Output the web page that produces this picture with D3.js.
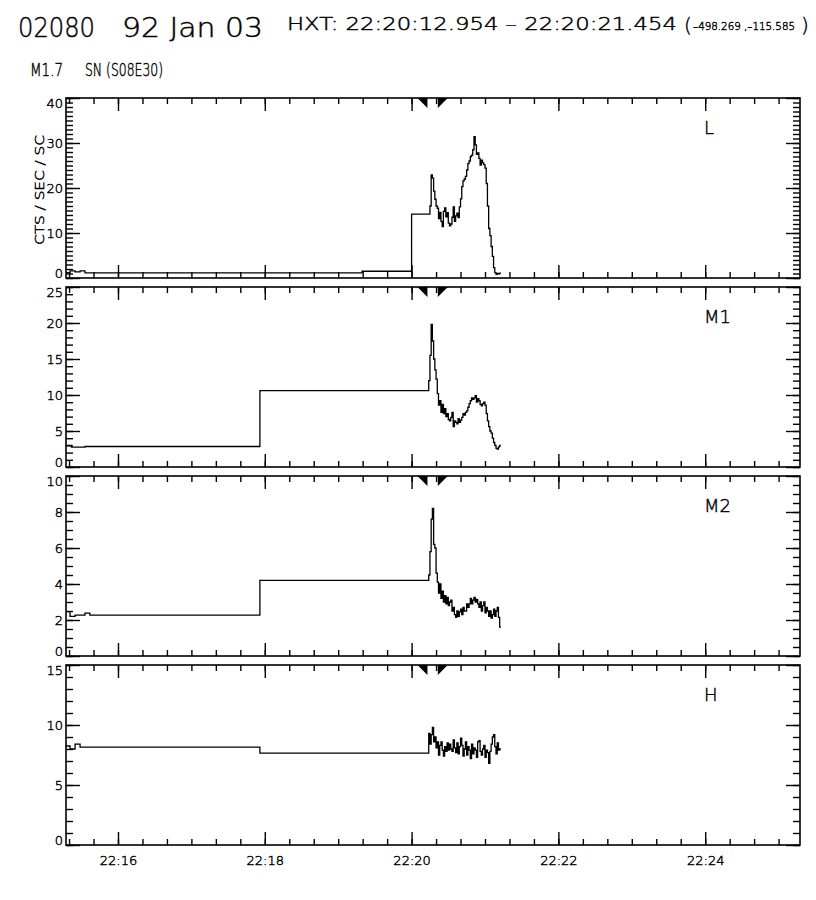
<!DOCTYPE html>
<html>
<head>
<meta charset="utf-8">
<script src="https://cdn.jsdelivr.net/npm/d3@7"></script>
<style>
  body { margin: 0; background: #fff; }
  svg { display: block; }
</style>
</head>
<body>
<svg width="816" height="900"></svg>
<script>
(function(d3) {
    'use strict';

    // HXT light curves, 92 Jan 03
    const channels = ['L', 'M1', 'M2', 'H'];
    const yMaxes = [40, 25, 10, 15];
    const yMajorSteps = [10, 5, 2, 5];
    const yMinorSteps = [1, 1, 0.5, 1];

    const axisStart = '22:15:17.5';
    const axisEnd = '22:25:17.5';
    const xTickLabels = ['22:16', '22:18', '22:20', '22:22', '22:24'];

    // low-rate background (step) samples before flare mode
    const bgTimesL = ['22:15:17.5', '22:15:20.8', '22:15:24.9', '22:15:29', '22:15:33', '22:19:19.5', '22:20:00'];
    const bgValuesL = [1.2, 1.6, 1.35, 1.6, 1.15, 1.5, 14.2];
    const bgTimesM1 = ['22:15:17.5', '22:15:22', '22:15:33', '22:17:56'];
    const bgValuesM1 = [3.0, 2.75, 2.85, 10.6];
    const bgTimesM2 = ['22:15:17.5', '22:15:20.8', '22:15:24.9', '22:15:33', '22:15:37', '22:17:56'];
    const bgValuesM2 = [2.47, 2.2, 2.27, 2.38, 2.27, 4.2];
    const bgTimesH = ['22:15:17.5', '22:15:20.8', '22:15:24.9', '22:15:29', '22:17:56'];
    const bgValuesH = [8.25, 8.0, 8.4, 8.15, 7.65];

    // flare mode samples, 1 s cadence
    const flareStart = '22:20:14';
    const flareStep = 1;
    const flareL = [14.2, 16.0, 22.9, 22.2, 19.3, 17.5, 16.0, 15.5, 13.2, 14.6,
        12.6, 11.4, 14.8, 15.6, 13.6, 14.5, 12.2, 11.6, 12.0, 13.5,
        15.8, 12.6, 13.8, 14.4, 13.4, 15.8, 17.6, 20.3, 21.6, 22.0,
        22.6, 24.0, 25.4, 26.0, 27.0, 27.3, 28.5, 31.4, 29.6, 27.5,
        27.8, 26.6, 25.1, 26.2, 25.6, 25.2, 24.4, 21.0, 16.0, 11.0,
        9.4, 7.0, 4.8, 2.3, 1.2, 0.8, 1.0, 0.9, 1.1];
    const flareM1 = [12.0, 15.5, 19.8, 17.5, 15.0, 13.5, 12.2, 10.2, 8.6, 9.2,
        7.6, 8.7, 7.4, 8.1, 7.0, 7.4, 6.6, 6.4, 6.9, 7.6,
        5.6, 6.4, 6.2, 6.0, 6.7, 6.2, 6.5, 6.9, 7.4, 7.2,
        7.6, 7.8, 8.3, 8.8, 9.2, 9.6, 9.4, 9.6, 9.9, 9.0,
        9.5, 9.2, 8.7, 8.5, 8.8, 9.0, 8.6, 7.4, 6.4, 5.6,
        5.0, 4.7, 4.0, 3.4, 3.0, 2.6, 2.5, 2.8, 3.0];
    const flareM2 = [4.5, 5.8, 7.6, 8.2, 6.2, 6.0, 4.6, 4.1, 3.5, 4.0,
        3.2, 3.6, 3.0, 3.35, 2.9, 3.25, 2.8, 3.0, 3.1, 2.5,
        2.7, 2.3, 2.15, 2.5, 2.2, 2.45, 2.6, 2.3, 2.7, 2.5,
        2.5, 2.9, 2.7, 2.9, 3.2, 2.9, 3.1, 3.25, 3.0, 3.15,
        2.9, 2.7, 3.0, 2.5, 2.8, 3.0, 2.4, 2.7, 2.5, 2.2,
        2.5, 2.1, 2.3, 2.6, 2.2, 2.5, 2.7, 2.15, 1.6];
    const flareH = [9.3, 8.4, 9.2, 9.8, 8.6, 9.0, 8.1, 8.6, 7.5, 8.3,
        8.6, 7.9, 7.4, 8.2, 7.8, 8.5, 7.9, 8.4, 8.0, 7.8,
        8.75, 8.1, 7.7, 8.5, 7.6, 8.2, 8.9, 8.3, 7.4, 8.0,
        8.6, 7.5, 8.2, 7.9, 7.2, 8.4, 7.6, 8.1, 7.9, 7.3,
        8.6, 8.7, 7.8, 7.5, 8.0, 8.3, 7.3, 7.9, 7.7, 6.8,
        7.8, 8.4, 9.0, 9.2, 8.2, 7.6, 8.5, 7.9, 8.0];

    const hxtTimes = ['22:20:12.954', '22:20:21.454'];

    const titleId = '02080';
    const titleDate = '92 Jan 03';
    const hxtLabel = 'HXT: 22:20:12.954 \u2013 22:20:21.454';
    const positionLabel = '\u2013498.269 ,\u2013115.585';
    const flareClass = 'M1.7';
    const flareSite = 'SN (S08E30)';
    const yTitle = 'CTS / SEC / SC';

    const bgTimes = [bgTimesL, bgTimesM1, bgTimesM2, bgTimesH];
    const bgValues = [bgValuesL, bgValuesM1, bgValuesM2, bgValuesH];
    const flareValues = [flareL, flareM1, flareM2, flareH];

    const hms = s => {
        const [h, m, sec] = s.split(':').map(Number);
        return new Date(Date.UTC(1992, 0, 3, h, m, 0) + sec * 1000);
    };

    const buildSeries = i => {
        const pts = bgTimes[i].map((t, j) => ({ t: hms(t), v: bgValues[i][j] }));
        const t0 = hms(flareStart).getTime();
        flareValues[i].forEach((v, k) => {
            pts.push({ t: new Date(t0 + k * flareStep * 1000), v });
        });
        const last = pts[pts.length - 1];
        pts.push({ t: new Date(last.t.getTime() + flareStep * 1000), v: last.v });
        return pts;
    };

    const left = 66, right = 800;
    const panelTops = [98, 287, 476, 665];
    const panelHeight = 180;

    // thin vector-font look
    const thin = sel => sel
        .attr('font-family', "'DejaVu Sans', sans-serif")
        .attr('font-weight', 200)
        .attr('fill', 'black')
        .attr('stroke', 'black')
        .attr('stroke-width', 0.45);

    const svg = d3.select('svg');
    svg.append('rect').attr('width', 816).attr('height', 900).attr('fill', 'white');

    const x = d3.scaleUtc()
        .domain([hms(axisStart), hms(axisEnd)])
        .range([left, right]);

    const xMajor = d3.utcMinute.every(2).range(x.domain()[0], x.domain()[1]);
    const xMinor = d3.utcSecond.every(20).range(x.domain()[0], x.domain()[1]);

    const strip = g => {
        g.select('.domain').remove();
        g.selectAll('line').attr('stroke', 'black').attr('stroke-width', 1.4);
    };

    const line = (xs, ys) => d3.line()
        .x(d => xs(d.t))
        .y(d => ys(d.v))
        .curve(d3.curveStepAfter);

    channels.forEach((name, i) => {
        const top = panelTops[i];
        const bottom = top + panelHeight;
        const y = d3.scaleLinear().domain([0, yMaxes[i]]).range([bottom, top]);
        const yMajor = d3.range(0, yMaxes[i] + 1e-9, yMajorSteps[i]);
        const yMinor = d3.range(0, yMaxes[i] + 1e-9, yMinorSteps[i]);

        const g = svg.append('g').attr('class', 'panel');

        // x ticks, top and bottom, pointing inward
        g.append('g').attr('transform', `translate(0,${top})`)
            .call(d3.axisBottom(x).tickValues(xMinor).tickSize(6).tickFormat(''))
            .call(strip);
        g.append('g').attr('transform', `translate(0,${top})`)
            .call(d3.axisBottom(x).tickValues(xMajor).tickSize(13).tickFormat(''))
            .call(strip);
        g.append('g').attr('transform', `translate(0,${bottom})`)
            .call(d3.axisTop(x).tickValues(xMinor).tickSize(6).tickFormat(''))
            .call(strip);
        g.append('g').attr('transform', `translate(0,${bottom})`)
            .call(d3.axisTop(x).tickValues(xMajor).tickSize(13).tickFormat(''))
            .call(strip);

        // y ticks, left and right
        g.append('g').attr('transform', `translate(${left},0)`)
            .call(d3.axisRight(y).tickValues(yMinor).tickSize(7).tickFormat(''))
            .call(strip);
        g.append('g').attr('transform', `translate(${left},0)`)
            .call(d3.axisRight(y).tickValues(yMajor).tickSize(14).tickFormat(''))
            .call(strip);
        g.append('g').attr('transform', `translate(${right},0)`)
            .call(d3.axisLeft(y).tickValues(yMinor).tickSize(7).tickFormat(''))
            .call(strip);
        g.append('g').attr('transform', `translate(${right},0)`)
            .call(d3.axisLeft(y).tickValues(yMajor).tickSize(14).tickFormat(''))
            .call(strip);

        // y labels; end labels nudged inside the frame
        const yLabels = g.append('g').attr('transform', `translate(${left - 3},0)`)
            .call(d3.axisLeft(y).tickValues(yMajor).tickSize(0).tickPadding(0).tickFormat(d3.format('d')))
            .call(strip);
        yLabels.selectAll('text')
            .call(thin)
            .attr('font-size', 13)
            .attr('y', d => d === 0 ? -5 : (d === yMaxes[i] ? 5 : 0));

        // frame
        g.append('rect')
            .attr('x', left).attr('y', top)
            .attr('width', right - left).attr('height', panelHeight)
            .attr('fill', 'none').attr('stroke', 'black').attr('stroke-width', 1.6);

        // HXT accumulation markers
        const tri = d3.line();
        g.selectAll('path.marker')
            .data(hxtTimes)
            .enter().append('path')
            .attr('class', 'marker')
            .attr('d', (d, j) => {
                const xm = x(hms(d));
                return j === 0
                    ? tri([[xm - 10, top], [xm, top], [xm, top + 10]]) + 'Z'
                    : tri([[xm, top], [xm + 10, top], [xm, top + 10]]) + 'Z';
            })
            .attr('fill', 'black');

        // light curve
        g.append('path')
            .datum(buildSeries(i))
            .attr('d', line(x, y))
            .attr('fill', 'none')
            .attr('stroke', 'black')
            .attr('stroke-width', 1.3);

        g.append('text')
            .attr('x', 704).attr('y', top + 36)
            .call(thin)
            .attr('font-size', 18)
            .text(name);

        if (i === channels.length - 1) {
            const xl = g.append('g').attr('transform', `translate(0,${bottom})`)
                .call(d3.axisBottom(x).tickValues(xTickLabels.map(s => hms(s + ':00')))
                    .tickSize(0).tickPadding(11).tickFormat(d3.utcFormat('%H:%M')))
                .call(strip);
            xl.selectAll('text').call(thin).attr('font-size', 13);
        }
    });

    // y title
    svg.append('text')
        .attr('transform', 'translate(44,190) rotate(-90)')
        .attr('text-anchor', 'middle')
        .call(thin)
        .attr('font-size', 12)
        .attr('textLength', 110).attr('lengthAdjust', 'spacingAndGlyphs')
        .text(yTitle);

    // header
    const header = [
        { text: titleId, x: 18, y: 37, size: 26, len: 77 },
        { text: titleDate, x: 122, y: 37, size: 26, len: 141 },
        { text: hxtLabel, x: 287, y: 30, size: 17, len: 390 },
        { text: '(', x: 684, y: 32, size: 20 },
        { text: positionLabel, x: 693, y: 30, size: 11, len: 102 },
        { text: ')', x: 801, y: 32, size: 20 },
        { text: flareClass, x: 30, y: 76, size: 17, len: 33 },
        { text: flareSite, x: 85, y: 76, size: 17, len: 78 }
    ];
    svg.selectAll('text.header')
        .data(header)
        .enter().append('text')
        .attr('class', 'header')
        .attr('x', d => d.x).attr('y', d => d.y)
        .call(thin)
        .attr('font-size', d => d.size)
        .attr('textLength', d => d.len || null)
        .attr('lengthAdjust', 'spacingAndGlyphs')
        .text(d => d.text);

}(d3));
</script>
</body>
</html>
